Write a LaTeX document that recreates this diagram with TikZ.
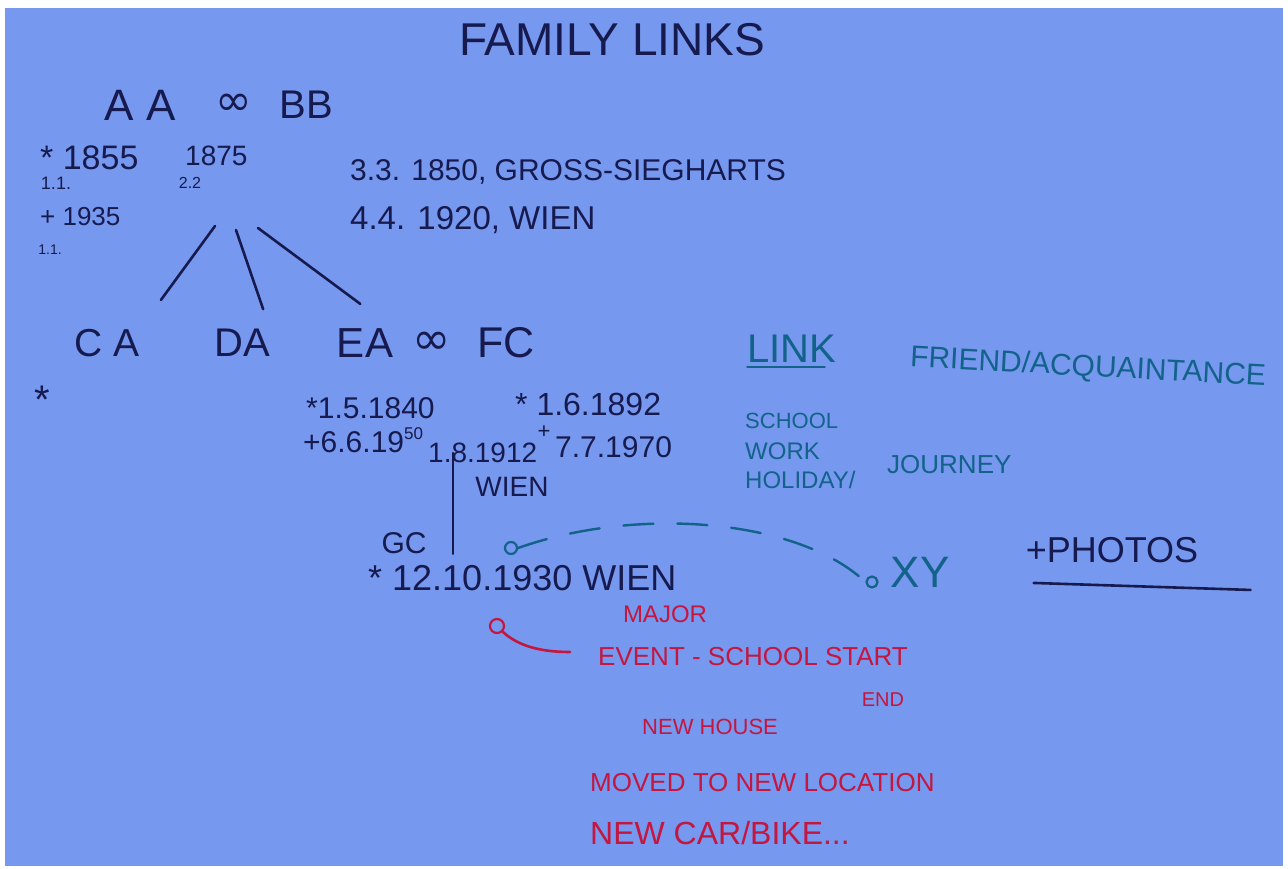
\documentclass[tikz,border=0pt]{standalone}
\usepackage{fontspec}
\setmainfont{Liberation Sans}
\newfontfamily\dejavu{DejaVu Sans}
\definecolor{paper}{RGB}{118,152,238}
\definecolor{ink}{RGB}{22,26,78}
\definecolor{linkcol}{RGB}{18,98,138}
\definecolor{eventcol}{RGB}{196,22,62}
\newcommand{\fs}[1]{\fontsize{#1}{#1}\selectfont}

\begin{document}
\begin{tikzpicture}[x=1pt,y=-1pt,line cap=round,
  hand/.style={inner sep=0pt,text=ink},
  link/.style={hand,text=linkcol},
  event/.style={hand,text=eventcol},
  stroke/.style={draw=ink,line width=2.6pt},
  dot/.style={circle,draw,line width=2.2pt,inner sep=0pt,minimum size=12pt}]
  \useasboundingbox (0,0) rectangle (1288,869);
  \fill[white] (0,0) rectangle (1288,869);
  \fill[paper] (5,8) rectangle (1283,866);

  \node[hand,font=\fs{46}] (title) at (612,40) {FAMILY LINKS};

  % first couple
  \node[hand,font=\fs{44}] (aa) at (140,105) {A A};
  \node[hand,font=\dejavu\fs{44}] (mar1) [right of=aa, node distance=94pt] {∞};
  \node[hand,font=\fs{40}] (bb) [right of=mar1, node distance=72pt] {BB};
  \node[hand,font=\fs{34},anchor=west] (aabirth) at (40,158) {* 1855};
  \node[hand,font=\fs{18}] (aabday) at (56,183) {1.1.};
  \node[hand,font=\fs{28},anchor=west] (wedding1) at (185,156) {1875};
  \node[hand,font=\fs{16}] (wday1) at (190,183) {2.2};
  \node[hand,font=\fs{26},anchor=west] (aadeath) at (40,217) {+ 1935};
  \node[hand,font=\fs{14}] (aadday) at (50,250) {1.1.};
  \node[hand,font=\fs{30},anchor=west] (bbbirth) at (350,172) {3.3. 1850, GROSS-SIEGHARTS};
  \node[hand,font=\fs{33},anchor=west] (bbdeath) at (350,220) {4.4. 1920, WIEN};

  % children
  \node[hand,font=\fs{39}] (ca) at (107,343) {C A};
  \node[hand,font=\fs{40}] (castar) at (42,400) {*};
  \node[hand,font=\fs{40}] (da) [right of=ca, node distance=135pt] {DA};
  \node[hand,font=\fs{42}] (ea) [right of=da, node distance=123pt] {EA};
  \node[hand,font=\dejavu\fs{46}] (mar2) [right of=ea, node distance=67pt] {∞};
  \node[hand,font=\fs{43}] (fc) [right of=mar2, node distance=74pt] {FC};
  \node[hand,font=\fs{30},anchor=west] (eabirth) at (306,408) {*1.5.1840};
  \node[hand,font=\fs{32},anchor=west] (fcbirth) at (515,404) {* 1.6.1892};
  \node[hand,font=\fs{30},anchor=west] (eadeath) at (303,440) {+6.6.19\raisebox{.45em}{\fs{17}50}};
  \node[hand,font=\fs{28},anchor=west] (wedding2) at (428,453) {1.8.1912};
  \node[hand,font=\fs{22}] (fcplus) at (544,432) {+};
  \node[hand,font=\fs{30},anchor=west] (fcdeath) at (555,447) {7.7.1970};
  \node[hand,font=\fs{28}] (wien2) at (512,487) {WIEN};

  \coordinate (fork1) at (215,226);
  \coordinate (fork2) at (236,230);
  \coordinate (fork3) at (258,228);
  \draw[stroke,shorten >=36pt] (fork1) -- (ca.north east);
  \draw[stroke,shorten >=21pt] (fork2) -- (da.north east);
  \draw[stroke,shorten >=41pt] (fork3) -- (ea.north east);

  % grandchild
  \node[hand,font=\fs{30}] (gc) at (404,543) {GC};
  \node[hand,font=\fs{36},anchor=west] (gcbirth) at (368,578) {* 12.10.1930 WIEN};
  \draw[stroke] ([xshift=25pt]wedding2.west) -- ([xshift=25pt]wedding2.west |- gc.south);

  % links
  \node[link,font=\fs{40}] (link) at (792,349) {LINK};
  \draw[linkcol,line width=2.4pt] (link.south west) ++(0,4) -- ([xshift=-12pt,yshift=-4pt]link.south east);
  \node[link,font=\fs{30},rotate=-3] (friend) at (1088,368) {FRIEND/ACQUAINTANCE};
  \node[link,font=\fs{22},anchor=west] (school) at (745,421) {SCHOOL};
  \node[link,font=\fs{24},anchor=west] (work) at (745,451) {WORK};
  \node[link,font=\fs{24},anchor=west] (holiday) at (745,480) {HOLIDAY/};
  \node[link,font=\fs{26},anchor=west] (journey) at (887,465) {JOURNEY};
  \node[dot,draw=linkcol] (from) at (511,548) {};
  \node[dot,draw=linkcol,minimum size=11pt] (to) at (872,582) {};
  \node[link,font=\fs{44}] (xy) at (920,572) {XY};
  \draw[linkcol,line width=2.4pt,dash pattern=on 30pt off 24pt]
    (from.east) .. controls (640,505) and (800,520) .. (to.west);

  \node[hand,font=\fs{36}] (photos) at (1112,550) {+PHOTOS};
  \draw[stroke] (photos.south west) ++(8,20) -- ++(217,7);

  % events
  \node[dot,draw=eventcol,minimum size=14pt] (ev) at (497,626) {};
  \node[event,font=\fs{24}] (major) at (665,614) {MAJOR};
  \node[event,font=\fs{26},anchor=west] (school2) at (598,657) {EVENT - SCHOOL START};
  \node[event,font=\fs{20}] (endd) at (883,700) {END};
  \node[event,font=\fs{22},anchor=west] (house) at (642,727) {NEW HOUSE};
  \node[event,font=\fs{26},anchor=west] (moved) at (590,783) {MOVED TO NEW LOCATION};
  \node[event,font=\fs{32},anchor=west] (car) at (590,833) {NEW CAR/BIKE...};
  \draw[eventcol,line width=2.6pt] (ev.south east) .. controls +(15,14) and +(-30,0) .. ([xshift=-28pt,yshift=5pt]school2.west);
\end{tikzpicture}
\end{document}
